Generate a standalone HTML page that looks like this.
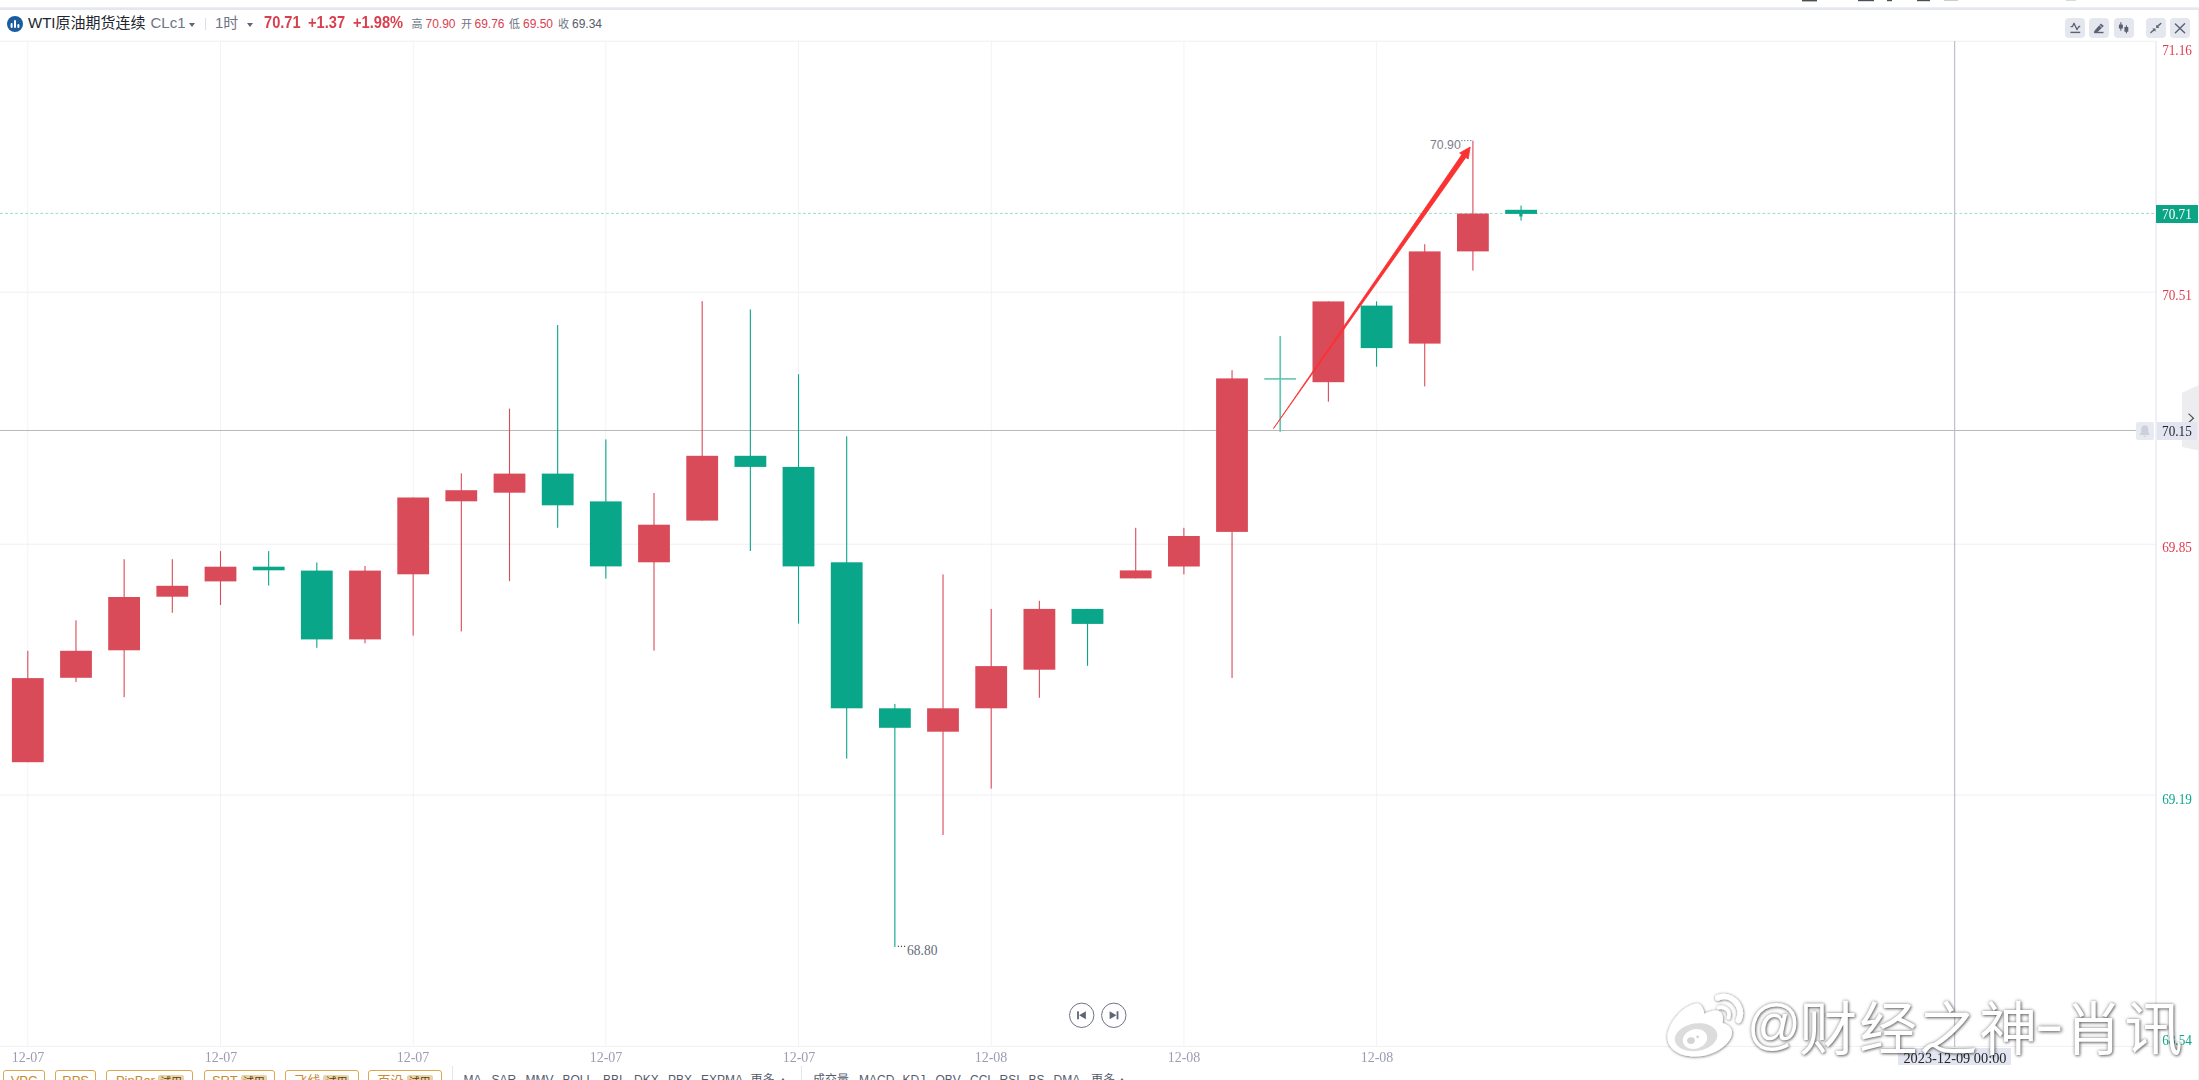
<!DOCTYPE html>
<html lang="zh-CN"><head><meta charset="utf-8"><title>WTI原油期货连续 CLc1</title>
<style>
html,body{margin:0;padding:0;background:#fff;}
body{width:2199px;height:1080px;overflow:hidden;position:relative;font-family:"Liberation Sans","Noto Sans CJK SC",sans-serif;color:#222;}
.abs{position:absolute;}
#topband{left:0;top:7px;width:2199px;height:3px;background:linear-gradient(#f1f2f7,#e3e6ee 55%,#e4e7ef);}
#panel{left:0;top:10px;width:2198px;height:1070px;background:#fff;border-top-right-radius:4px;}
#rightgap{left:2198px;top:10px;width:1px;height:1070px;background:#eff1f6;}
#hdr{left:0;top:12px;height:24px;line-height:24px;white-space:nowrap;}
#hdr span{position:absolute;top:0;white-space:nowrap;}
.ttl{font-size:15px;color:#22252e;margin-top:-1.5px;}
.code{font-size:15px;color:#6f7585;margin-top:-1px;}
.big{font-size:16px;font-weight:bold;color:#d9404f;transform:scaleX(.915);transform-origin:0 50%;margin-top:-1px;}
.sm{font-size:11px;color:#6f7585;}
.v{font-size:12px;}
.red{color:#d9404f;} .dk{color:#555b68;}
.caret{position:absolute;width:0;height:0;border-left:3.5px solid transparent;border-right:3.5px solid transparent;border-top:4px solid #5f6575;}
.tb{position:absolute;top:18px;width:20px;height:20px;border-radius:4px;background:#e5e7ef;}
.tb svg{position:absolute;left:0;top:0;}
.yl{position:absolute;left:2157px;width:40px;text-align:center;height:18px;line-height:18px;font-family:"Liberation Serif","Noto Serif CJK SC",serif;font-size:14.2px;transform:scaleX(.93);}
.xl{position:absolute;top:1048px;width:60px;text-align:center;height:18px;line-height:18px;font-family:"Liberation Serif","Noto Serif CJK SC",serif;font-size:14.2px;color:#9a9cb3;transform:scaleX(.985);}
#tag71{left:2156px;top:205px;width:42px;height:18px;line-height:18px;background:#0BA586;color:#fff;text-align:center;font-family:"Liberation Serif","Noto Serif CJK SC",serif;font-size:14.2px;}
#tag71 span,#tag15 span,#datetag span{display:inline-block;transform:scaleX(.93);}
#tag15{left:2157px;top:421.5px;width:40px;height:18px;line-height:18px;background:#e3e6f0;color:#22242c;text-align:center;font-family:"Liberation Serif","Noto Serif CJK SC",serif;font-size:14.2px;}
#bell{left:2136px;top:421.5px;width:17.5px;height:18px;background:#e8eaf2;border-radius:2px;}
#datetag{left:1898px;top:1048.4px;width:113px;height:16.6px;line-height:20.5px;background:#e3e6f0;color:#22242c;text-align:center;font-family:"Liberation Serif","Noto Serif CJK SC",serif;font-size:15px;white-space:nowrap;}
#datetag span{transform:scaleX(.955);}
.ob{position:absolute;top:1069.6px;height:20px;border:1.5px solid #dba64f;border-radius:3px;box-sizing:border-box;color:#c88a2e;font-size:13px;line-height:19px;text-align:center;white-space:nowrap;}
.ob b{font-weight:normal;display:inline-block;background:#ead3a6;color:#5a3d10;font-size:11px;line-height:14px;padding:0 2px;margin-left:3px;border-radius:2px;vertical-align:-1px;}
.ind{position:absolute;top:1072px;font-size:12px;line-height:16px;color:#555b6b;white-space:nowrap;}
#wm{left:1745.4px;top:988px;font-family:"Liberation Sans","Noto Sans CJK SC",sans-serif;font-size:58px;line-height:84px;color:#fff;white-space:nowrap;letter-spacing:2px;text-shadow:1px 1px 3px rgba(0,0,0,.48),0 0 3.5px rgba(0,0,0,.42);}
#wm .at{font-size:56px;display:inline-block;position:relative;top:-7px;transform:scaleX(.95);transform-origin:0 50%;margin-left:2px;margin-right:-7px;}
#wm .dash{display:inline-block;position:relative;top:-6.5px;transform:scaleX(1.55);margin:0 3px 0 1px;}
</style></head><body>
<div class="abs" id="topband"></div>
<div class="abs" id="panel"></div>
<div class="abs" id="rightgap"></div>
<svg class="abs" style="left:0;top:0" width="2199" height="1080" viewBox="0 0 2199 1080">
<g fill="#4a4f5c"><rect x="1802" y="0" width="15" height="1.4"/><rect x="1858" y="0" width="16" height="1.2"/><rect x="1887" y="0" width="5" height="1.2"/><rect x="1917" y="0" width="13" height="1.2"/><rect x="1944" y="0" width="14" height="1" fill="#c9ccd6"/><rect x="2066" y="0" width="10" height="1" fill="#d5d8e0"/></g>
<rect x="27.3" y="41" width="1" height="1005.5" fill="#f3f3f6"/>
<rect x="220.0" y="41" width="1" height="1005.5" fill="#f3f3f6"/>
<rect x="412.7" y="41" width="1" height="1005.5" fill="#f3f3f6"/>
<rect x="605.3" y="41" width="1" height="1005.5" fill="#f3f3f6"/>
<rect x="798.0" y="41" width="1" height="1005.5" fill="#f3f3f6"/>
<rect x="990.7" y="41" width="1" height="1005.5" fill="#f3f3f6"/>
<rect x="1183.4" y="41" width="1" height="1005.5" fill="#f3f3f6"/>
<rect x="1376.1" y="41" width="1" height="1005.5" fill="#f3f3f6"/>
<rect x="0" y="40.7" width="2156" height="1" fill="#f0f0f3"/>
<rect x="0" y="291.7" width="2156" height="1" fill="#f0f0f3"/>
<rect x="0" y="543.7" width="2156" height="1" fill="#f0f0f3"/>
<rect x="0" y="794.5" width="2156" height="1" fill="#f0f0f3"/>
<rect x="0" y="1045.9" width="2156" height="1" fill="#f0f0f3"/>
<rect x="2155.3" y="41" width="1.5" height="1006" fill="#eaeaf2"/>
<rect x="1954.2" y="41" width="1" height="1006" fill="#b4b4c2"/>
<rect x="0" y="430" width="2137" height="1" fill="#bababa"/>
<line x1="0" y1="213.4" x2="2156" y2="213.4" stroke="#98dbcc" stroke-width="1" stroke-dasharray="2.8 2.25"/>
<rect x="27.25" y="650.8" width="1.1" height="111.4" fill="#DA4B59"/>
<rect x="11.9" y="678.1" width="31.8" height="84.1" fill="#DA4B59"/>
<rect x="75.42" y="620.3" width="1.1" height="61.7" fill="#DA4B59"/>
<rect x="60.1" y="650.8" width="31.8" height="27.0" fill="#DA4B59"/>
<rect x="123.59" y="559.2" width="1.1" height="138.0" fill="#DA4B59"/>
<rect x="108.2" y="597.0" width="31.8" height="53.3" fill="#DA4B59"/>
<rect x="171.76" y="559.2" width="1.1" height="53.6" fill="#DA4B59"/>
<rect x="156.4" y="585.8" width="31.8" height="10.9" fill="#DA4B59"/>
<rect x="219.93" y="551.1" width="1.1" height="53.9" fill="#DA4B59"/>
<rect x="204.6" y="566.7" width="31.8" height="14.7" fill="#DA4B59"/>
<rect x="268.10" y="551.1" width="1.1" height="34.5" fill="#0AA689"/>
<rect x="252.8" y="566.7" width="31.8" height="3.6" fill="#0AA689"/>
<rect x="316.27" y="562.5" width="1.1" height="85.3" fill="#0AA689"/>
<rect x="300.9" y="570.6" width="31.8" height="68.8" fill="#0AA689"/>
<rect x="364.44" y="566.0" width="1.1" height="77.3" fill="#DA4B59"/>
<rect x="349.1" y="570.6" width="31.8" height="68.8" fill="#DA4B59"/>
<rect x="412.61" y="497.5" width="1.1" height="138.1" fill="#DA4B59"/>
<rect x="397.3" y="497.5" width="31.8" height="76.8" fill="#DA4B59"/>
<rect x="460.78" y="473.3" width="1.1" height="158.1" fill="#DA4B59"/>
<rect x="445.4" y="490.2" width="31.8" height="11.1" fill="#DA4B59"/>
<rect x="508.95" y="408.6" width="1.1" height="172.6" fill="#DA4B59"/>
<rect x="493.6" y="473.6" width="31.8" height="19.1" fill="#DA4B59"/>
<rect x="557.12" y="325.0" width="1.1" height="202.8" fill="#0AA689"/>
<rect x="541.8" y="473.6" width="31.8" height="31.7" fill="#0AA689"/>
<rect x="605.29" y="439.4" width="1.1" height="139.2" fill="#0AA689"/>
<rect x="589.9" y="501.4" width="31.8" height="65.0" fill="#0AA689"/>
<rect x="653.46" y="493.0" width="1.1" height="157.6" fill="#DA4B59"/>
<rect x="638.1" y="524.7" width="31.8" height="37.6" fill="#DA4B59"/>
<rect x="701.63" y="301.1" width="1.1" height="219.5" fill="#DA4B59"/>
<rect x="686.3" y="455.8" width="31.8" height="64.8" fill="#DA4B59"/>
<rect x="749.80" y="309.4" width="1.1" height="241.6" fill="#0AA689"/>
<rect x="734.5" y="455.8" width="31.8" height="11.1" fill="#0AA689"/>
<rect x="797.97" y="374.2" width="1.1" height="249.4" fill="#0AA689"/>
<rect x="782.6" y="466.9" width="31.8" height="99.5" fill="#0AA689"/>
<rect x="846.14" y="436.4" width="1.1" height="322.2" fill="#0AA689"/>
<rect x="830.8" y="562.3" width="31.8" height="146.0" fill="#0AA689"/>
<rect x="894.31" y="703.9" width="1.1" height="243.1" fill="#0AA689"/>
<rect x="879.0" y="708.3" width="31.8" height="19.5" fill="#0AA689"/>
<rect x="942.48" y="574.4" width="1.1" height="260.6" fill="#DA4B59"/>
<rect x="927.1" y="708.3" width="31.8" height="23.4" fill="#DA4B59"/>
<rect x="990.65" y="608.9" width="1.1" height="179.7" fill="#DA4B59"/>
<rect x="975.3" y="666.1" width="31.8" height="42.2" fill="#DA4B59"/>
<rect x="1038.82" y="600.8" width="1.1" height="97.0" fill="#DA4B59"/>
<rect x="1023.5" y="608.9" width="31.8" height="60.8" fill="#DA4B59"/>
<rect x="1086.99" y="608.9" width="1.1" height="56.9" fill="#0AA689"/>
<rect x="1071.6" y="608.9" width="31.8" height="15.0" fill="#0AA689"/>
<rect x="1135.16" y="527.8" width="1.1" height="50.6" fill="#DA4B59"/>
<rect x="1119.8" y="570.4" width="31.8" height="8.0" fill="#DA4B59"/>
<rect x="1183.33" y="527.8" width="1.1" height="46.6" fill="#DA4B59"/>
<rect x="1168.0" y="536.0" width="31.8" height="30.5" fill="#DA4B59"/>
<rect x="1231.50" y="370.2" width="1.1" height="307.8" fill="#DA4B59"/>
<rect x="1216.1" y="378.4" width="31.8" height="153.5" fill="#DA4B59"/>
<rect x="1279.37" y="336.1" width="1.7" height="95.7" fill="#63c6b2"/>
<rect x="1264.3" y="378.1" width="31.8" height="1.6" fill="#63c6b2"/>
<rect x="1327.84" y="301.4" width="1.1" height="100.3" fill="#DA4B59"/>
<rect x="1312.5" y="301.4" width="31.8" height="80.8" fill="#DA4B59"/>
<rect x="1376.01" y="301.4" width="1.1" height="65.3" fill="#0AA689"/>
<rect x="1360.7" y="305.6" width="31.8" height="42.5" fill="#0AA689"/>
<rect x="1424.18" y="244.2" width="1.1" height="142.2" fill="#DA4B59"/>
<rect x="1408.8" y="251.4" width="31.8" height="92.2" fill="#DA4B59"/>
<rect x="1472.35" y="140.6" width="1.1" height="130.0" fill="#DA4B59"/>
<rect x="1457.0" y="213.6" width="31.8" height="37.8" fill="#DA4B59"/>
<rect x="1520.52" y="205.6" width="1.1" height="15.0" fill="#0AA689"/>
<rect x="1505.2" y="209.8" width="31.8" height="4.1" fill="#0AA689"/>
<rect x="1519.3" y="213.5" width="3.2" height="3" fill="#0AA689"/>
<polygon points="1273.5,428.5 1465.9,157.4 1468.2,159.0 1470.2,147.0 1459.6,153.0 1461.9,154.6" fill="#fa3232" stroke="#fa3232" stroke-width="0.8" stroke-linejoin="round"/>
<line x1="1461" y1="140.6" x2="1473" y2="140.6" stroke="#8a8f99" stroke-width="1" stroke-dasharray="1.5 1.5"/>
<text x="1430" y="149.2" font-family="Liberation Sans, sans-serif" font-size="12.3" fill="#7b808c">70.90</text>
<line x1="897.8" y1="946.4" x2="906" y2="946.4" stroke="#444" stroke-width="1.1" stroke-dasharray="1.1 2"/>
<text x="907" y="955" font-family="Liberation Serif, serif" font-size="14.8" textLength="30.4" lengthAdjust="spacingAndGlyphs" fill="#666b78">68.80</text>
<circle cx="1081.7" cy="1015.3" r="12.2" fill="#fff" stroke="#6d7382" stroke-width="1"/>
<rect x="1077.1000000000001" y="1011.3" width="1.8" height="8" fill="#5f6575"/>
<polygon points="1079.1000000000001,1015.3 1085.9,1011.3 1085.9,1019.3" fill="#5f6575"/>
<circle cx="1113.8" cy="1015.3" r="12.2" fill="#fff" stroke="#6d7382" stroke-width="1"/>
<rect x="1116.6" y="1011.3" width="1.8" height="8" fill="#5f6575"/>
<polygon points="1116.3999999999999,1015.3 1109.6,1011.3 1109.6,1019.3" fill="#5f6575"/>
</svg>
<div class="abs" id="hdr">
 <svg style="position:absolute;left:7px;top:4px" width="16" height="16" viewBox="0 0 16 16"><circle cx="8" cy="8" r="8" fill="#1b5c9e"/><rect x="3.6" y="7" width="2" height="5" rx="1" fill="#fff"/><rect x="7" y="4" width="2" height="8" rx="1" fill="#fff"/><rect x="10.4" y="8" width="2" height="4" rx="1" fill="#fff"/></svg>
 <span class="ttl" style="left:28px">WTI原油期货连续</span>
 <span class="code" style="left:150.5px">CLc1</span>
 <i class="caret" style="left:188.5px;top:11px"></i>
 <i style="position:absolute;left:205px;top:6px;width:1px;height:12px;background:#dcdfe6"></i>
 <span class="code" style="left:215px">1时</span>
 <i class="caret" style="left:246.5px;top:11px"></i>
 <span class="big" style="left:263.5px">70.71</span>
 <span class="big" style="left:308px">+1.37</span>
 <span class="big" style="left:352.5px">+1.98%</span>
 <span class="sm" style="left:411.5px">高</span><span class="v red" style="left:425.5px">70.90</span>
 <span class="sm" style="left:461px">开</span><span class="v red" style="left:474.5px">69.76</span>
 <span class="sm" style="left:509px">低</span><span class="v red" style="left:523px">69.50</span>
 <span class="sm" style="left:558px">收</span><span class="v dk" style="left:572px">69.34</span>
</div>
<div class="tb" style="left:2064.6px"><svg width="20" height="20" viewBox="0 0 20 20"><path d="M5.6 8.7h1.8l1.6-3.4 2.900 6.300 2-3.100h1.300" fill="none" stroke="#5b6170" stroke-width="1.300" stroke-linejoin="round"/><path d="M5.400 14.400h9.800" stroke="#5b6170" stroke-width="1.400"/></svg></div>
<div class="tb" style="left:2089.3px"><svg width="20" height="20" viewBox="0 0 20 20"><path d="M5.100 14.900L5.300 13L11.800 5.500L14.800 8L8.600 13.900L7.500 14.900Z" fill="#5b6170"/><path d="M10.350 6.870L12.950 9.630" stroke="#e5e7ef" stroke-width=".9"/><path d="M5.300 14.500h9.200" stroke="#5b6170" stroke-width="1.400"/></svg></div>
<div class="tb" style="left:2113.8px"><svg width="20" height="20" viewBox="0 0 20 20"><rect x="4.900" y="6.400" width="4" height="4.200" rx=".5" fill="#5b6170"/><rect x="6.300" y="4.200" width="1.100" height="8.500" fill="#5b6170"/><rect x="10.400" y="9.100" width="3.900" height="4.700" rx=".5" fill="#5b6170"/><rect x="11.850" y="7.300" width="1.100" height="8" fill="#5b6170"/></svg></div>
<div class="tb" style="left:2146.1px"><svg width="20" height="20" viewBox="0 0 20 20"><g stroke="#5b6170" stroke-width="1.400" stroke-linecap="round"><path d="M14.800 5.500L11.500 8.400"/><path d="M4.900 14.600L8.100 11.700"/></g><polygon points="10.200,6.700 10.200,9.900 13.400,9.900" fill="#5b6170"/><polygon points="6.300,10.500 9.500,10.500 9.500,13.700" fill="#5b6170"/></svg></div>
<div class="tb" style="left:2170.2px"><svg width="20" height="20" viewBox="0 0 20 20"><path d="M5.400 5.900l9.200 8.900M14.600 5.800l-9.200 8.900" stroke="#5b6170" stroke-width="1.400" stroke-linecap="round"/></svg></div>
<div class="yl" style="top:41px;color:#e0394a">71.16</div><div class="yl" style="top:286px;color:#e0394a">70.51</div><div class="yl" style="top:538px;color:#e0394a">69.85</div><div class="yl" style="top:790px;color:#0AA689">69.19</div><div class="yl" style="top:1031px;color:#0AA689">68.54</div>
<div class="xl" style="left:-2.2px">12-07</div><div class="xl" style="left:190.5px">12-07</div><div class="xl" style="left:383.2px">12-07</div><div class="xl" style="left:575.8px">12-07</div><div class="xl" style="left:768.5px">12-07</div><div class="xl" style="left:961.2px">12-08</div><div class="xl" style="left:1153.9px">12-08</div><div class="xl" style="left:1346.6px">12-08</div>
<svg class="abs" style="left:2180px;top:380px" width="19" height="76" viewBox="0 0 19 76"><polygon points="2,12.7 19,5 19,70.5 2,66.9" fill="#ededef"/><path d="M8.5 33.6l5 4.6-5 4.6" fill="none" stroke="#4d5260" stroke-width="1.2"/></svg>
<div class="abs" id="tag71"><span>70.71</span></div>
<div class="abs" id="bell"><svg width="17.5" height="18" viewBox="0 0 17.5 18"><path d="M8.75 3.2c-2.3 0-3.6 1.8-3.6 4v3.2l-1.5 2v.6h10.2v-.6l-1.5-2V7.200c0-2.200-1.300-4-3.600-4zM7.400 13.800h2.700c0 .8-.6 1.300-1.350 1.300s-1.350-.5-1.350-1.300z" fill="#cdd0dc"/></svg></div>
<div class="abs" id="tag15"><span>70.15</span></div>
<div class="abs" id="datetag"><span>2023-12-09 00:00</span></div>
<div class="ob" style="left:3.3px;width:41.4px">VPC</div>
<div class="ob" style="left:55.3px;width:40.7px">RPS</div>
<div class="ob" style="left:106.4px;width:87.1px">PinBar<b>试用</b></div>
<div class="ob" style="left:204px;width:70.7px">SRT<b>试用</b></div>
<div class="ob" style="left:285.4px;width:73.2px">飞线<b>试用</b></div>
<div class="ob" style="left:368.3px;width:73.5px">百沿<b>试用</b></div>
<i class="abs" style="left:452px;top:1066px;width:1px;height:14px;background:#e4e6ec"></i>
<span class="ind" style="left:463.5px">MA</span><span class="ind" style="left:491.5px">SAR</span><span class="ind" style="left:525.5px">MMV</span><span class="ind" style="left:562.5px">BOLL</span><span class="ind" style="left:603px">BBI</span><span class="ind" style="left:634px">DKX</span><span class="ind" style="left:668px">PBX</span><span class="ind" style="left:701px">EXPMA</span><span class="ind" style="left:750.5px">更多</span>
<i class="abs" style="left:779.5px;top:1077.5px;width:0;height:0;border-left:3.5px solid transparent;border-right:3.5px solid transparent;border-bottom:4px solid #5f6575"></i><i class="abs" style="left:1118.5px;top:1077.5px;width:0;height:0;border-left:3.5px solid transparent;border-right:3.5px solid transparent;border-bottom:4px solid #5f6575"></i>
<i class="abs" style="left:801px;top:1066px;width:1px;height:14px;background:#e4e6ec"></i>
<span class="ind" style="left:813px">成交量</span><span class="ind" style="left:859px">MACD</span><span class="ind" style="left:902.5px">KDJ</span><span class="ind" style="left:935.5px">OBV</span><span class="ind" style="left:970px">CCI</span><span class="ind" style="left:999.5px">RSI</span><span class="ind" style="left:1028.5px">BS</span><span class="ind" style="left:1053.5px">DMA</span><span class="ind" style="left:1091px">更多</span>
<svg class="abs" style="left:0;top:0" width="2199" height="1080" viewBox="0 0 2199 1080">
<defs><filter id="ws" x="1640" y="970" width="130" height="110" filterUnits="userSpaceOnUse"><feDropShadow dx="0" dy="0" stdDeviation="1.8" flood-color="#000" flood-opacity=".33" result="a"/><feDropShadow in="a" dx="0.6" dy="0.9" stdDeviation="1.3" flood-color="#000" flood-opacity=".35"/></filter></defs>
<g filter="url(#ws)">
<path d="M1696.5 1003.5C1700 1003 1704 1008 1704.3 1013.9C1709 1011.5 1715 1009.5 1719 1011C1723 1013 1723.5 1018 1722.500 1023C1728 1024.500 1732.500 1028 1732 1033.500C1731 1043 1716 1056.500 1695 1056.500C1678 1056.500 1667.500 1048 1667.500 1037C1667.500 1025 1681 1006 1696.500 1003.500Z" fill="#fff"/>
<path d="M1718.500 1007.600C1724 1005.600 1731 1010.500 1728.600 1017.600" fill="none" stroke="#fff" stroke-width="3.6" stroke-linecap="round"/>
<path d="M1718 997.800C1731 992.500 1745 1006 1738.600 1020.300" fill="none" stroke="#fff" stroke-width="5.800" stroke-linecap="round"/>
</g>
<ellipse cx="1696.1" cy="1037.200" rx="21.500" ry="13.800" fill="#dcdcdc" transform="rotate(-9 1696.100 1037.200)"/>
<ellipse cx="1695" cy="1039" rx="12.400" ry="9.800" fill="#fff" transform="rotate(-18 1695 1039)"/>
<ellipse cx="1691" cy="1040.600" rx="3.900" ry="3.400" fill="#d4d4d4"/><circle cx="1697.600" cy="1036.900" r="1.300" fill="#d0d0d0"/>
</svg>
<div class="abs" id="wm"><span class="at">@</span>财经之神<span class="dash">-</span>肖讯</div>
</body></html>
